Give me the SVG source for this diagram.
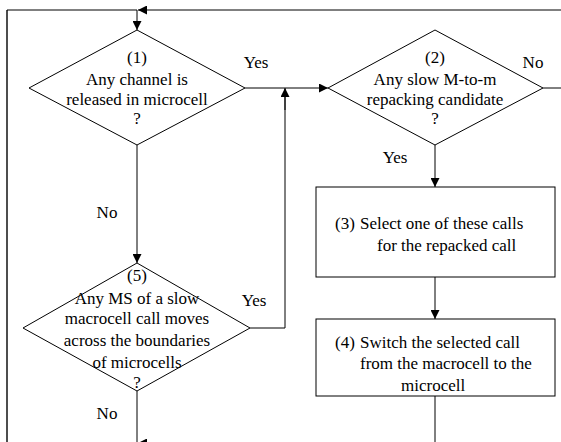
<svg xmlns="http://www.w3.org/2000/svg" width="561" height="442" viewBox="0 0 561 442">
  <style>
    .shape { fill: #ffffff; stroke: #000000; stroke-width: 1; }
    .line { fill: none; stroke: #000000; stroke-width: 1; }
    .edge { fill: none; stroke: #4d4d4d; stroke-width: 2; }
    text { font-family: "Liberation Serif", "Times New Roman", serif; font-size: 17px; fill: #000000; }
    .c { text-anchor: middle; }
  </style>
  <defs>
    <marker id="arrow" viewBox="0 0 10 10" refX="10" refY="5" markerWidth="9" markerHeight="9" markerUnits="userSpaceOnUse" orient="auto">
      <path d="M0,0 L10,5 L0,10 Z" fill="#000000"/>
    </marker>
  </defs>
  <rect width="561" height="442" fill="#ffffff"/>

  <!-- connectors -->
  <g id="connectors">
    <!-- outer loop back to the top -->
    <line class="edge" x1="7" y1="442" x2="7" y2="10"/>
    <line class="line" x1="7" y1="10" x2="137" y2="10"/>
    <line class="line" x1="137" y1="10" x2="137" y2="30" marker-end="url(#arrow)"/>
    <line class="line" x1="561" y1="10" x2="138" y2="10" marker-end="url(#arrow)"/>
    <!-- (1) Yes to (2) -->
    <line class="line" x1="245" y1="88" x2="328" y2="88" marker-end="url(#arrow)"/>
    <!-- (2) No, leaving to the right -->
    <line class="line" x1="543" y1="88" x2="561" y2="88"/>
    <!-- (1) No to (5) -->
    <line class="line" x1="137" y1="145" x2="137" y2="263" marker-end="url(#arrow)"/>
    <!-- (5) Yes joins the (1) Yes branch -->
    <polyline class="line" points="250,328 285,328 285,89"/>
    <line class="line" x1="285" y1="110" x2="285" y2="88" marker-end="url(#arrow)"/>
    <!-- (2) Yes to (3) -->
    <line class="line" x1="435" y1="145" x2="435" y2="187" marker-end="url(#arrow)"/>
    <!-- (3) to (4) -->
    <line class="line" x1="435" y1="277" x2="435" y2="319" marker-end="url(#arrow)"/>
    <!-- (4) down -->
    <line class="line" x1="435" y1="396" x2="435" y2="442"/>
    <!-- (5) No down -->
    <line class="line" x1="137" y1="391" x2="137" y2="442"/>
    <line class="line" x1="435" y1="443" x2="138" y2="443" marker-end="url(#arrow)"/>
  </g>

  <g id="node1">
    <polygon class="shape" points="137,30 245,88 137,145 29,88"/>
    <text class="c" x="137" y="63">(1)</text>
    <text class="c" x="137" y="85">Any channel is</text>
    <text class="c" x="137" y="105">released in microcell</text>
    <text class="c" x="137" y="124">?</text>
  </g>

  <g id="node2">
    <polygon class="shape" points="435,30 543,88 435,145 328,88"/>
    <text class="c" x="435" y="63">(2)</text>
    <text class="c" x="435" y="85">Any slow M-to-m</text>
    <text class="c" x="435" y="105">repacking candidate</text>
    <text class="c" x="435" y="124">?</text>
  </g>

  <g id="node3">
    <rect class="shape" x="316" y="187" width="239" height="90"/>
    <text x="335" y="229">(3)<tspan x="360">Select one of these calls</tspan></text>
    <text x="377" y="251">for the repacked call</text>
  </g>

  <g id="node4">
    <rect class="shape" x="316" y="319" width="239" height="77"/>
    <text x="335" y="348">(4)<tspan x="360">Switch the selected call</tspan></text>
    <text x="360" y="369">from the macrocell to the</text>
    <text x="401" y="391">microcell</text>
  </g>

  <g id="node5">
    <polygon class="shape" points="137,263 250,328 137,391 23,328"/>
    <text class="c" x="137" y="281">(5)</text>
    <text class="c" x="137" y="304">Any MS of a slow</text>
    <text class="c" x="137" y="324">macrocell call moves</text>
    <text class="c" x="137" y="346">across the boundaries</text>
    <text class="c" x="137" y="368">of microcells</text>
    <text class="c" x="137" y="388">?</text>
  </g>

  <g id="labels">
    <text class="c" x="256" y="68">Yes</text>
    <text class="c" x="533" y="68">No</text>
    <text class="c" x="107" y="218">No</text>
    <text class="c" x="395" y="163">Yes</text>
    <text class="c" x="254" y="306">Yes</text>
    <text class="c" x="107" y="419">No</text>
  </g>
</svg>
